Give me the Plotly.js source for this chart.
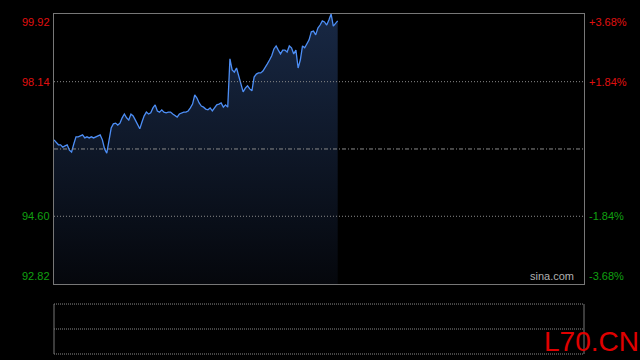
<!DOCTYPE html>
<html>
<head>
<meta charset="utf-8">
<script src="https://cdn.plot.ly/plotly-3.0.1.min.js"></script>
<style>html,body{margin:0;padding:0;background:#000;}#chart{width:640px;height:360px;}</style>
</head>
<body>
<div id="chart"></div>
<script>
// Intraday prices (one per minute from 09:30)
const prices = [
  96.61, 96.53, 96.48, 96.48, 96.42, 96.45, 96.48, 96.34, 96.29, 96.50,
  96.69, 96.69, 96.71, 96.74, 96.66, 96.69, 96.66, 96.69, 96.66, 96.69,
  96.71, 96.74, 96.61, 96.37, 96.26, 96.55, 96.92, 97.03, 97.05, 97.00,
  97.05, 97.19, 97.29, 97.19, 97.13, 97.29, 97.24, 97.13, 97.00, 96.90,
  97.08, 97.24, 97.34, 97.29, 97.32, 97.45, 97.53, 97.37, 97.34, 97.40,
  97.34, 97.32, 97.34, 97.34, 97.29, 97.26, 97.21, 97.29, 97.32, 97.34,
  97.34, 97.37, 97.45, 97.55, 97.79, 97.71, 97.58, 97.50, 97.47, 97.42,
  97.40, 97.45, 97.37, 97.45, 97.53, 97.55, 97.58, 97.47, 97.53, 97.47,
  98.74, 98.45, 98.39, 98.50, 98.29, 98.13, 97.87, 97.97, 98.03, 97.95,
  97.90, 98.26, 98.34, 98.37, 98.37, 98.42, 98.50, 98.61, 98.71, 98.82,
  99.00, 99.08, 98.97, 98.87, 98.97, 98.97, 98.92, 99.08, 99.03, 98.87,
  98.97, 98.50, 98.71, 99.08, 99.03, 99.13, 99.24, 99.45, 99.47, 99.37,
  99.55, 99.63, 99.74, 99.71, 99.63, 99.76, 99.92, 99.60, 99.68, 99.74
];
const prevClose = 96.37;
const priceTicks = [99.92, 98.14, 94.60, 92.82];
const priceLabels = ["99.92", "98.14", "94.60", "92.82"];
const pctLabels = ["+3.68%", "+1.84%", "-1.84%", "-3.68%"];
const totalMinutes = 241;

const minuteIdx = prices.map((_, i) => i);
const yMin = priceTicks[3], yMax = priceTicks[0];

const trace = {
  x: minuteIdx, y: prices, type: 'scatter', mode: 'lines',
  line: {color: '#4d8ef5', width: 1.3},
  fill: 'tozeroy',
  fillgradient: {type: 'vertical', start: yMin, stop: yMax,
    colorscale: [[0, 'rgb(5,7,12)'], [1, 'rgb(24,40,68)']]},
  hoverinfo: 'skip', xaxis: 'x', yaxis: 'y'
};
const volTrace = {x: [0], y: [0], type: 'scatter', mode: 'none', xaxis: 'x2', yaxis: 'y2', hoverinfo: 'skip'};

const font = {family: 'Arial, "Liberation Sans", sans-serif', size: 11};
const red = '#e01010', green = '#10a010';
const annotations = [];
priceTicks.forEach((v, i) => {
  const col = v > prevClose ? red : green;
  const ya = i === 0 ? 'top' : (i === priceTicks.length - 1 ? 'bottom' : 'middle');
  annotations.push({xref: 'paper', yref: 'y', x: 0, y: v, xanchor: 'right', yanchor: ya,
    xshift: -2, text: priceLabels[i], showarrow: false, font: Object.assign({}, font, {color: col})});
  annotations.push({xref: 'paper', yref: 'y', x: 1, y: v, xanchor: 'left', yanchor: ya,
    xshift: 3, text: pctLabels[i], showarrow: false, font: Object.assign({}, font, {color: col})});
});
annotations.push({xref: 'paper', yref: 'y', x: 0.985, y: yMin, xanchor: 'right', yanchor: 'bottom',
  text: 'sina.com', showarrow: false, font: Object.assign({}, font, {color: '#b0b0b0'})});
annotations.push({xref: 'paper', yref: 'paper', x: 0.92, y: 0, xanchor: 'left', yanchor: 'bottom', yshift: -5,
  text: 'L70.CN', showarrow: false, font: {family: 'Arial, "Liberation Sans", sans-serif', size: 28, color: '#e00000'}});

const grid = '#8a8a8a';
const shapes = [
  {type: 'line', xref: 'x domain', yref: 'y', x0: 0, x1: 1, y0: priceTicks[1], y1: priceTicks[1], line: {color: grid, width: 1, dash: '1px,2px'}},
  {type: 'line', xref: 'x domain', yref: 'y', x0: 0, x1: 1, y0: priceTicks[2], y1: priceTicks[2], line: {color: grid, width: 1, dash: '1px,2px'}},
  {type: 'line', xref: 'x domain', yref: 'y', x0: 0, x1: 1, y0: prevClose, y1: prevClose, line: {color: grid, width: 1, dash: '4px,2px,1px,2px'}},
  {type: 'line', xref: 'x2 domain', yref: 'y2 domain', x0: 0, x1: 1, y0: 1, y1: 1, line: {color: grid, width: 1, dash: '1px,1px'}},
  {type: 'line', xref: 'x2 domain', yref: 'y2 domain', x0: 0, x1: 1, y0: 0.5, y1: 0.5, line: {color: grid, width: 1, dash: '1px,1px'}},
  {type: 'line', xref: 'x2 domain', yref: 'y2 domain', x0: 0, x1: 1, y0: 0, y1: 0, line: {color: grid, width: 1, dash: '1px,1px'}},
  {type: 'line', xref: 'x2 domain', yref: 'y2 domain', x0: 0, x1: 0, y0: 0, y1: 1, line: {color: '#777', width: 1}},
  {type: 'line', xref: 'x2 domain', yref: 'y2 domain', x0: 1, x1: 1, y0: 0, y1: 1, line: {color: '#777', width: 1}}
];

const layout = {
  width: 640, height: 360,
  margin: {l: 54, r: 56, t: 14, b: 6, pad: 0},
  paper_bgcolor: '#000', plot_bgcolor: '#000',
  showlegend: false,
  xaxis: {domain: [0, 1], range: [0, totalMinutes], showticklabels: false, ticks: '', showgrid: false, zeroline: false,
    showline: true, mirror: true, linecolor: '#777', linewidth: 1, anchor: 'y'},
  yaxis: {domain: [0.206, 1], range: [yMin, yMax], showticklabels: false, ticks: '', showgrid: false, zeroline: false,
    showline: true, mirror: true, linecolor: '#777', linewidth: 1, anchor: 'x'},
  xaxis2: {domain: [0, 1], range: [0, totalMinutes], visible: false, anchor: 'y2'},
  yaxis2: {domain: [0, 0.147], range: [0, 1], visible: false, anchor: 'x2'},
  annotations: annotations,
  shapes: shapes
};
Plotly.newPlot('chart', [trace, volTrace], layout, {staticPlot: true, displayModeBar: false});
</script>
</body>
</html>
